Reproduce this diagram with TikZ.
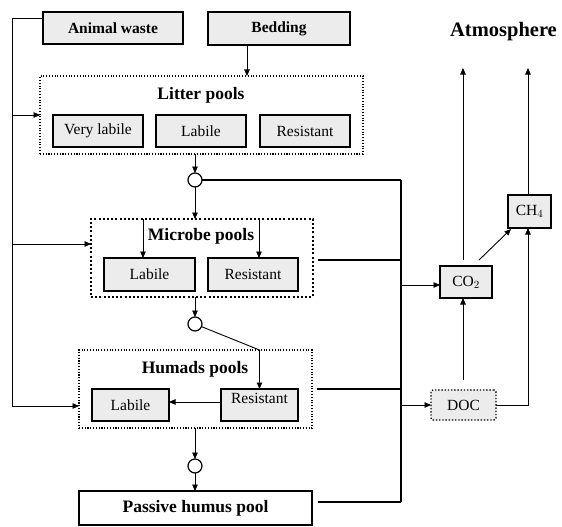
\documentclass[tikz,border=0pt]{standalone}
\usepackage{fontspec}
\setmainfont{Liberation Serif}
\usetikzlibrary{arrows.meta,calc}
\begin{document}
\begin{tikzpicture}[x=1pt,y=-1pt,
  every node/.style={inner sep=0pt,outer sep=0pt},
  arr/.style={line width=0.9pt,-{Triangle[length=6.5pt,width=5.5pt]}},
  conn/.style={line width=1.1pt},
  bus/.style={line width=2pt},
  pbox/.style={draw,line width=1.8pt,fill=gray!15,font=\fontsize{15.5}{18}\selectfont},
  inbox/.style={draw,line width=1.8pt,fill=gray!15,font=\fontsize{15.5}{18}\selectfont\bfseries},
  thindot/.style={draw,line width=1.1pt,dash pattern=on 1.1pt off 1.7pt},
  thickdot/.style={draw,line width=2pt,dash pattern=on 2pt off 2.2pt},
  junc/.style={draw,circle,line width=1.2pt,fill=white,minimum size=14pt},
  title/.style={font=\fontsize{17.5}{20}\selectfont\bfseries}]
\useasboundingbox (0,0) rectangle (562,527);

% inputs
\node[inbox,minimum width=140,minimum height=32] (aw) at (113,28) {Animal waste};
\node[inbox,minimum width=142,minimum height=33] (bed) at (279,28.5) {Bedding};
\node[font=\fontsize{20.5}{23}\selectfont\bfseries] (atm) at (503.5,32) {Atmosphere};

% litter pools
\node[thindot,minimum width=323,minimum height=78] (litter) at (201.5,115) {};
\node[title] (lt) at (201,95) {Litter pools};
\node[pbox,minimum width=90,minimum height=32] (vl) at (98,131) {Very labile};
\node[pbox,minimum width=90,minimum height=32] (ll) at (201,131) {Labile};
\node[pbox,minimum width=90,minimum height=32] (lr) at (305,131) {Resistant};

\node[junc] (c1) at (195,180) {};

% microbe pools
\node[thickdot,minimum width=222,minimum height=78] (microbe) at (202,258) {};
\node[title] (mt) at (201,236) {Microbe pools};
\node[pbox,minimum width=91,minimum height=33] (mlab) at (149.5,274.5) {Labile};
\node[pbox,minimum width=90,minimum height=33] (mres) at (253,274.5) {Resistant};

\node[junc] (c2) at (195,324) {};

% humads pools
\node[thindot,minimum width=233,minimum height=78] (humads) at (195.5,389) {};
\node[title] (ht) at (195,369) {Humads pools};
\node[pbox,minimum width=77,minimum height=32] (hlab) at (130.5,405) {Labile};
\node[pbox,minimum width=77,minimum height=32] (hres) at (259.5,405) {};
\node[font=\fontsize{15.5}{18}\selectfont] (hrest) at (259.5,398) {Resistant};

\node[junc] (c3) at (195,466) {};

\node[draw,line width=1.8pt,minimum width=233,minimum height=34,font=\fontsize{17.5}{20}\selectfont\bfseries] (passive) at (195.5,508) {Passive humus pool};

% gases
\node[pbox,minimum width=52,minimum height=32] (co2) at (466,282) {CO$_2$};
\node[pbox,minimum width=43,minimum height=33] (ch4) at (529.5,211.5) {CH$_4$};
\node[draw,line width=1.4pt,dash pattern=on 1.4pt off 1.8pt,rounded corners=2pt,fill=gray!15,
      minimum width=65,minimum height=30,font=\fontsize{15.5}{18}\selectfont] (doc) at (463.5,405) {DOC};

% coordinates
\coordinate (L) at (12,18);
\coordinate (bt) at (401,180);
\coordinate (bb) at (401,502);
\coordinate (atm1) at (463,68);
\coordinate (atm2) at (528,68);

% left feed line
\draw[arr] (aw.west |- L) -- (L) |- ([yshift=-17pt]humads.west);
\draw[arr] (L |- litter.west) -- (litter.west);
\draw[arr] (L |- 0,244) -- (microbe.west |- 0,244);

% bedding
\draw[arr] ([xshift=-32pt]bed.south) -- ([xshift=-32pt]bed.south |- litter.north);

% litter -> microbe
\draw[arr] (c1 |- litter.south) -- (c1.north);
\draw[arr] (c1.south) -- (c1 |- microbe.north);
\draw[conn] (c1.east) -- (bt);
\draw[arr] ([xshift=-6.5pt]mlab.north |- microbe.north) -- ([xshift=-6.5pt]mlab.north);
\draw[arr] ([xshift=6pt]mres.north |- microbe.north) -- ([xshift=6pt]mres.north);
\draw[conn] ([xshift=5pt,yshift=-2pt]microbe.east) -- ([yshift=-2pt]microbe.east -| bt);

% microbe -> humads
\draw[arr] (c2 |- microbe.south) -- (c2.north);
\draw[arr] (c2) -- (hres.north |- humads.north) -- (hres.north);
\draw[arr] (hres.west |- 0,402) -- (hlab.east |- 0,402);
\draw[conn] ([xshift=5pt]humads.east) -- (humads.east -| bt);

% humads -> passive
\draw[arr] (c3 |- humads.south) -- (c3.north);
\draw[arr] (c3.south) -- (c3 |- passive.north);
\draw[conn] ([xshift=6pt,yshift=6pt]passive.east) -- (bb);

% bus
\draw[bus] (bt) -- (bb);
\draw[arr] (bt |- 0,285) -- (co2.west |- 0,285);
\draw[arr] (doc.west -| bt) -- (doc.west);

% gases
\draw[arr,shorten <=6pt] (co2.north -| atm1) -- (atm1);
\draw[arr] (ch4.north -| atm2) -- (atm2);
\draw[arr] ([shift={(13,-6)}]co2.north) -- ([shift={(3,1)}]ch4.south west);
\draw[arr,shorten <=10pt] (doc.north -| atm1) -- (co2.south -| atm1);
\draw[arr] (doc.east) -| (ch4.south -| atm2);
\end{tikzpicture}
\end{document}
